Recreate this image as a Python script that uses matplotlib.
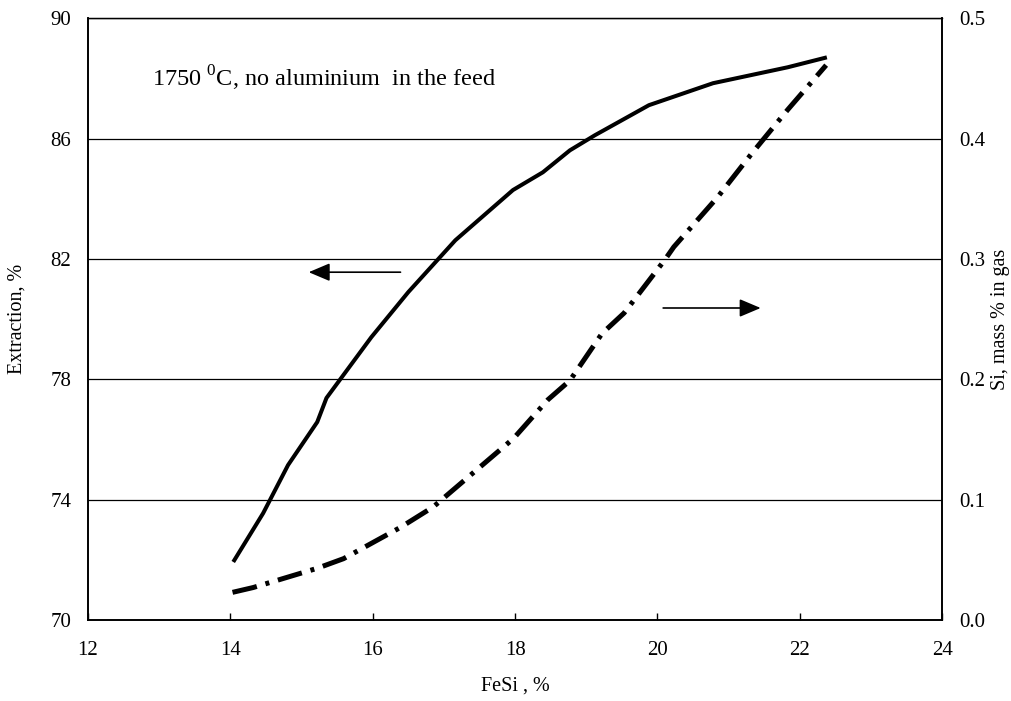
import numpy as np
import matplotlib.pyplot as plt

# ─── Data ────────────────────────────────────────────────
# Extraction (left axis), solid line
fesi_ext = [14.04, 14.46, 14.81, 15.22, 15.35, 15.98, 16.5, 17.16, 17.97,
            18.39, 18.77, 19.12, 19.88, 20.78, 21.83, 22.38]
extraction = [71.93, 73.55, 75.15, 76.58, 77.38, 79.40, 80.9, 82.62, 84.29,
              84.88, 85.61, 86.11, 87.11, 87.84, 88.37, 88.70]

# Si in gas (right axis), dash-dot line
fesi_si = [14.03, 14.32, 15.22, 15.59, 16.39, 16.85, 17.98, 18.46, 18.77,
           19.22, 19.53, 20.10, 20.23, 20.84, 21.33, 21.83, 22.37]
si_gas = [0.023, 0.027, 0.043, 0.051, 0.077, 0.094, 0.151, 0.183, 0.199,
          0.238, 0.255, 0.299, 0.310, 0.351, 0.388, 0.424, 0.461]

x_ticks = [12, 14, 16, 18, 20, 22, 24]
y_ticks = [70, 74, 78, 82, 86, 90]
y2_ticks = [0.0, 0.1, 0.2, 0.3, 0.4, 0.5]

plt.rcParams['font.family'] = ['Liberation Serif', 'DejaVu Serif']
plt.rcParams['mathtext.fontset'] = 'custom'
plt.rcParams['mathtext.rm'] = 'Liberation Serif'

fig = plt.figure(figsize=(10.12, 7.01), dpi=100)
ax = fig.add_axes([0.087, 0.1155, 0.844, 0.8585])
ax2 = ax.twinx()

# gridlines
for yv in y_ticks[1:]:
    ax.axhline(yv, color='black', lw=0.9, zorder=1)

ax.plot(fesi_ext, extraction, color='black', lw=2.9, solid_capstyle='butt', zorder=3)
ax2.plot(fesi_si, si_gas, color='black', lw=3.6,
         dashes=(5, 1.8, 0.8, 1.8), zorder=3)

ax.set_xlim(12, 24)
ax.set_ylim(70, 90)
ax2.set_ylim(0.0, 0.5)

ax.set_xticks(x_ticks)
ax.set_yticks(y_ticks)
ax2.set_yticks(y2_ticks)
ax2.set_yticklabels([f'{v:.1f}' for v in y2_ticks])

ax.tick_params(axis='x', direction='in', length=5, width=1, pad=15, labelsize=15)
ax.tick_params(axis='y', length=0, pad=12, labelsize=15)
ax2.tick_params(axis='y', length=0, pad=12, labelsize=15)

for a in (ax, ax2):
    for s in a.spines.values():
        s.set_linewidth(1.2)
    a.spines['top'].set_linewidth(0.9)

ax.set_xlabel('FeSi , %', fontsize=14.5, labelpad=12)
ax.set_ylabel('Extraction, %', fontsize=14.5)
ax2.set_ylabel('Si, mass % in gas', fontsize=14.5, rotation=90)
ax.yaxis.set_label_coords(-0.0715, 0.5)
ax2.yaxis.set_label_coords(1.057, 0.5)

ax.text(12.9, 87.72, r'1750 $^{0}$C, no aluminium  in the feed', fontsize=17.5)

# direction arrows
ax.annotate('', xy=(15.10, 81.56), xytext=(16.39, 81.56),
            arrowprops=dict(arrowstyle='-|>,head_length=1.3,head_width=0.55',
                            color='black', lw=1.2, shrinkA=0, shrinkB=0))
ax.annotate('', xy=(21.45, 80.37), xytext=(20.08, 80.37),
            arrowprops=dict(arrowstyle='-|>,head_length=1.3,head_width=0.55',
                            color='black', lw=1.2, shrinkA=0, shrinkB=0))

plt.savefig('out.png', dpi=100)
